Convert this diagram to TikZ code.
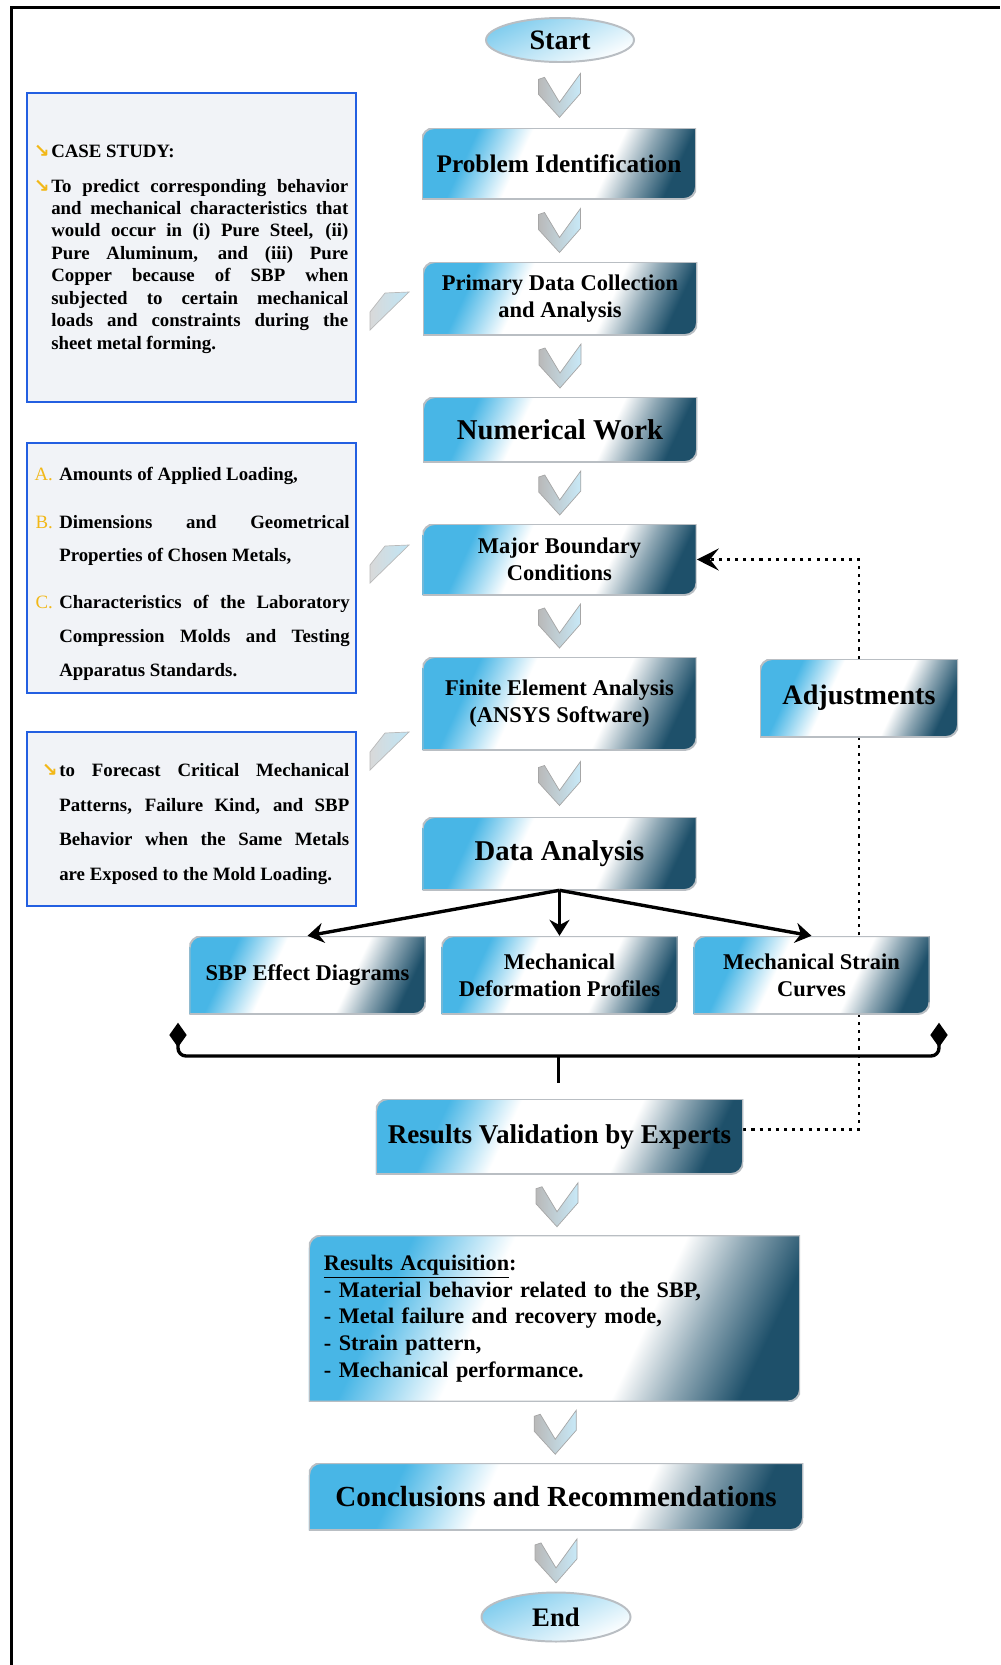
\documentclass[tikz,border=0pt]{standalone}
\usepackage{fontspec}
\setmainfont{Liberation Serif}
\newfontfamily\symfont{DejaVu Sans}
\usetikzlibrary{shapes.geometric,arrows.meta,backgrounds,calc}
\definecolor{SkyTop}{RGB}{72,182,230}
\definecolor{SteelDark}{RGB}{30,80,106}
\definecolor{FrameBlue}{RGB}{35,95,225}
\definecolor{PanelGray}{RGB}{241,243,247}
\definecolor{Gold}{RGB}{242,184,24}
\definecolor{EdgeGray}{RGB}{185,190,195}
\pgfdeclareverticalshading{glossy}{100bp}{color(0bp)=(SteelDark); color(24bp)=(SteelDark); color(32bp)=(SteelDark!50!white); color(39bp)=(white); color(59bp)=(white); color(65bp)=(SkyTop!50!white); color(71bp)=(SkyTop); color(100bp)=(SkyTop)}
\newcommand\arrowbul{\leavevmode\llap{\textcolor{Gold}{\symfont\bfseries ↘}\hspace{0.4mm}}}
\newcommand\itemlab[1]{\leavevmode\llap{\textcolor{Gold}{\mdseries #1}\hspace{1.6mm}}}
\newcommand\bigfont{\bfseries\fontsize{20.4}{24}\selectfont}
\newcommand\boxfont{\bfseries\fontsize{16}{19.5}\selectfont}

\begin{document}
\begin{tikzpicture}[x=0.25mm, y=-0.25mm,
  glossbox/.style={rectangle, align=center, inner sep=0pt, font=\boxfont,
    path picture={\shadedraw[shading=glossy, shading angle=65, draw=EdgeGray, line width=1.4pt]
      (path picture bounding box.south west) -- ([yshift=-3mm]path picture bounding box.north west)
      arc[start angle=180, end angle=90, radius=3mm] -- (path picture bounding box.north east)
      -- ([yshift=3mm]path picture bounding box.south east)
      arc[start angle=0, end angle=-90, radius=3mm] -- cycle;}},
  mainbox/.style={glossbox, minimum width=68.5mm},
  outbox/.style={glossbox, minimum width=59mm, minimum height=19.5mm},
  terminal/.style={ellipse, inner sep=0pt, draw=EdgeGray, line width=1.4pt, top color=SkyTop!70!white, bottom color=white, shading angle=25, font=\bfseries\fontsize{20}{24}\selectfont},
  panel/.style={rectangle, inner sep=0pt, draw=FrameBlue, line width=0.6mm, fill=PanelGray, minimum width=82.25mm},
  sidetext/.style={anchor=west, align=justify, inner sep=0pt},
  feedback/.style={line width=2pt, dash pattern=on 2.2pt off 3.6pt},
  bracket/.style={line width=2.4pt, rounded corners=2mm},
  tipmark/.style={diamond, fill=black, inner sep=0pt, minimum width=4.4mm, minimum height=6.2mm},
  chevron/.pic={\shadedraw[left color=gray!55, right color=SkyTop!30!white, draw=gray!70, line width=0.5pt]
    (-21,-16) -- (-21,-1) -- (0,22) -- (21,-2) -- (21,-22) -- (0,7) -- (-15,-18) -- cycle;},
  notch/.pic={\shadedraw[left color=gray!30, right color=SkyTop!35!white, draw=gray!55, line width=0.5pt]
    (0,0) -- (0,-18) -- (15,-37) -- (39,-38) -- cycle;},
  level distance=30.4mm, sibling distance=63mm,
  edge from parent/.style={draw, line width=2.4pt, -{Stealth[length=4mm,width=5mm]}},
  edge from parent path={(\tikzparentnode.south) -- (\tikzchildnode.north)}]

\useasboundingbox (0,0) rectangle (1000,1665);
\draw[line width=0.75mm] (11,1665) -- (11,7) -- (1000,7);

\node[panel, minimum height=77.25mm] (casebox) at (191.5,247.5) {};
\node[panel, minimum height=62.5mm] (loadbox) at (191.5,568) {};
\node[panel, minimum height=43.5mm] (aimbox) at (191.5,819) {};
\node[sidetext, text width=74.25mm, font=\bfseries\fontsize{13.4}{15.95}\selectfont] (casetxt) at (51,249)
  {\arrowbul CASE STUDY:\par\vspace{3.1mm}\arrowbul To predict corresponding behavior\linebreak
   and mechanical characteristics that\linebreak would occur in (i) Pure Steel, (ii)\linebreak
   Pure Aluminum, and (iii) Pure\linebreak Copper because of SBP when\linebreak
   subjected to certain mechanical\linebreak loads and constraints during the\linebreak
   sheet metal forming.};
\node[sidetext, text width=72.6mm, font=\bfseries\fontsize{13.4}{24}\selectfont] (loadtxt) at (59,574)
  {\itemlab{A.}Amounts of Applied Loading,\par\vspace{3.35mm}
   \itemlab{B.}Dimensions and Geometrical\linebreak Properties of Chosen Metals,\par\vspace{3.35mm}
   \itemlab{C.}Characteristics of the Laboratory\linebreak Compression Molds and Testing\linebreak
   Apparatus Standards.};
\node[sidetext, text width=72.5mm, font=\bfseries\fontsize{13.4}{24.8}\selectfont] (aimtxt) at (59,824)
  {\arrowbul to Forecast Critical Mechanical\linebreak Patterns, Failure Kind, and SBP\linebreak
   Behavior when the Same Metals\linebreak are Exposed to the Mold Loading.};
\foreach \ny in {330,583,770}
  \pic at (370,\ny) {notch};

\node[terminal, minimum width=37mm, minimum height=11mm] (start) at (560,40) {Start};
\node[mainbox, minimum height=17.75mm, font=\bfseries\fontsize{18}{21}\selectfont] (problem) at (559,163.5) {Problem Identification};
\node[mainbox, minimum height=18.25mm] (primary) at (560,298.5) {Primary Data Collection\\and Analysis};
\node[mainbox, minimum height=16.25mm, font=\bigfont] (numeric) at (560,429.5) {Numerical Work};
\node[mainbox, minimum height=17.75mm] (boundary) at (559.5,559.5) {Major Boundary\\Conditions};
\node[mainbox, minimum height=23.25mm] (fea) at (559.5,703.5) {Finite Element Analysis\\(ANSYS Software)};
\node[mainbox, minimum height=18.25mm, font=\bigfont] (analysis) at (559.5,853.5) {Data Analysis}
  child {node[outbox] (sbp) {SBP Effect Diagrams}}
  child {node[outbox] (deform) {Mechanical\\Deformation Profiles}}
  child {node[outbox] (strain) {Mechanical Strain\\Curves}};
\node[glossbox, minimum width=49.5mm, minimum height=19.5mm, font=\bfseries\fontsize{20}{24}\selectfont] (adjust) at (859,698) {Adjustments};
\node[glossbox, minimum width=91.75mm, minimum height=18.75mm, font=\bfseries\fontsize{19.3}{23}\selectfont] (valid) at (559.5,1136.5) {Results Validation by Experts};
\node[glossbox, minimum width=122.75mm, minimum height=41.5mm, text width=115.25mm, align=left, font=\bfseries\fontsize{15.8}{18.9}\selectfont] (acquire) at (554.5,1318.5)
  {\underline{Results Acquisition}:\\- Material behavior related to the SBP,\\- Metal failure and recovery mode,\\- Strain pattern,\\- Mechanical performance.};
\node[glossbox, minimum width=123.5mm, minimum height=16.75mm, font=\bfseries\fontsize{20.7}{24}\selectfont] (conclude) at (556,1496.5) {Conclusions and Recommendations};
\node[terminal, minimum width=37.25mm, minimum height=12.25mm, font=\bfseries\fontsize{19}{23}\selectfont] (finish) at (556,1617) {End};

\foreach \a/\b in {start/problem, problem/primary, primary/numeric, numeric/boundary, boundary/fea, fea/analysis, valid/acquire, acquire/conclude, conclude/finish}
  \pic at ($(\a.south)!0.5!(\b.north)$) {chevron};

\node[tipmark] (tipL) at (178,1035) {};
\node[tipmark] (tipR) at (939,1035) {};
\coordinate (brM) at (558.5,1056);
\coordinate (brS) at (558.5,1083);
\draw[bracket] (tipL.center) |- (brM) -| (tipR.center);
\draw[bracket] (brM) -- (brS);

\begin{scope}[on background layer]
\draw[feedback] ([yshift=1.75mm]valid.east) -| (adjust.south);
\draw[feedback, -{Stealth[length=5.5mm,width=5.5mm,inset=2.2mm]}] (adjust.north) |- (boundary.east);
\end{scope}
\end{tikzpicture}
\end{document}
